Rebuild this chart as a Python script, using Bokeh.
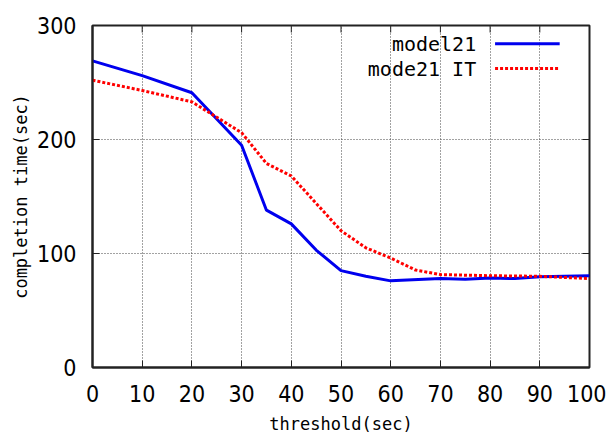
import math
from bokeh.plotting import figure
from bokeh.models import Range1d, FixedTicker, Label
from bokeh.embed import file_html
from bokeh.resources import INLINE

# ---- data ----
x_model21 = [0, 10, 20, 30, 35, 40, 45, 50, 55, 60, 70, 75, 80, 85, 90, 100]
y_model21 = [269, 256, 241, 195, 138, 126, 103, 85, 80, 76, 78, 77.5, 78.5, 78, 79.5, 80.5]

x_it = [0, 10, 20, 30, 35, 40, 45, 50, 55, 60, 65, 70, 80, 90, 100]
y_it = [252, 243, 233, 206, 179, 168, 144, 120, 105, 96, 85.5, 81.5, 80.5, 80, 78]

x_ticks = [0, 10, 20, 30, 40, 50, 60, 70, 80, 90, 100]
y_ticks = [0, 100, 200, 300]
series_names = ["model21", "mode21 IT"]
x_label = "threshold(sec)"
y_label = "completion time(sec)"

TICK_FONT = "'Liberation Sans Narrow', 'DejaVu Sans Condensed', sans-serif"
MONO = "DejaVu Sans Mono"
FRAME = "#222222"

p = figure(frame_width=497, frame_height=342, output_backend="svg", toolbar_location=None,
           x_range=Range1d(0, 100), y_range=Range1d(0, 300),
           min_border_left=92, min_border_right=17, min_border_top=25,
           min_border_bottom=10)
p.background_fill_color = "white"
p.border_fill_color = "white"
p.outline_line_color = FRAME
p.outline_line_width = 2

for ax in (p.xaxis[0], p.yaxis[0]):
    ax.major_tick_in = 7
    ax.major_tick_out = 0
    ax.minor_tick_line_color = None
    ax.axis_line_color = FRAME
    ax.axis_line_width = 2
    ax.major_tick_line_color = FRAME
    ax.major_label_text_font = TICK_FONT
    ax.major_label_text_font_size = "23px"
    ax.major_label_text_color = "black"
    ax.axis_label_text_font = MONO
    ax.axis_label_text_font_size = "17px"
    ax.axis_label_text_font_style = "normal"
    ax.axis_label_text_color = "black"

p.xaxis[0].ticker = FixedTicker(ticks=x_ticks)
p.yaxis[0].ticker = FixedTicker(ticks=y_ticks)
p.xaxis[0].axis_label = x_label
p.yaxis[0].axis_label = y_label
p.xaxis[0].major_label_standoff = 17
p.yaxis[0].major_label_standoff = 16
p.xaxis[0].axis_label_standoff = 9
p.yaxis[0].axis_label_standoff = 3

for g in (p.xgrid[0], p.ygrid[0]):
    g.grid_line_color = "#444444"
    g.grid_line_dash = "1 2"
    g.grid_line_width = 1
p.xgrid[0].ticker = FixedTicker(ticks=x_ticks)
p.ygrid[0].ticker = FixedTicker(ticks=y_ticks)

# mirrored inward ticks on the top and right edges
xr, yr = p.x_range, p.y_range
p.ray(x=x_ticks, y=[yr.end] * len(x_ticks), length=7, length_units="screen",
      angle=-math.pi / 2, line_color=FRAME, line_width=1)
p.ray(x=[xr.end] * len(y_ticks), y=y_ticks, length=7, length_units="screen",
      angle=math.pi, line_color=FRAME, line_width=1)

p.line(x_model21, y_model21, line_color="#0000ee", line_width=3)
p.line(x_it, y_it, line_color="#ff0000", line_width=3, line_dash="3 2")

# ---- gnuplot-style key (text right-aligned, sample line to its right) ----
def fx(f):
    return xr.start + f * (xr.end - xr.start)
def fy(f):
    return yr.start + f * (yr.end - yr.start)

key_text_x = 0.772
key_line = (0.81, 0.94)
key_rows = [0.947, 0.874]
key_colors = ["#0000ee", "#ff0000"]
key_dash = ["solid", "3 2"]
for name, row, col, dash in zip(series_names, key_rows, key_colors, key_dash):
    p.add_layout(Label(x=fx(key_text_x), y=fy(row), text=name, text_align="right",
                       text_baseline="middle", text_font=MONO, text_font_size="20px",
                       text_color="black"))
    p.line([fx(key_line[0]), fx(key_line[1])], [fy(row), fy(row)],
           line_color=col, line_width=3, line_dash=dash)

open("out.html", "w").write(file_html(p, INLINE))
